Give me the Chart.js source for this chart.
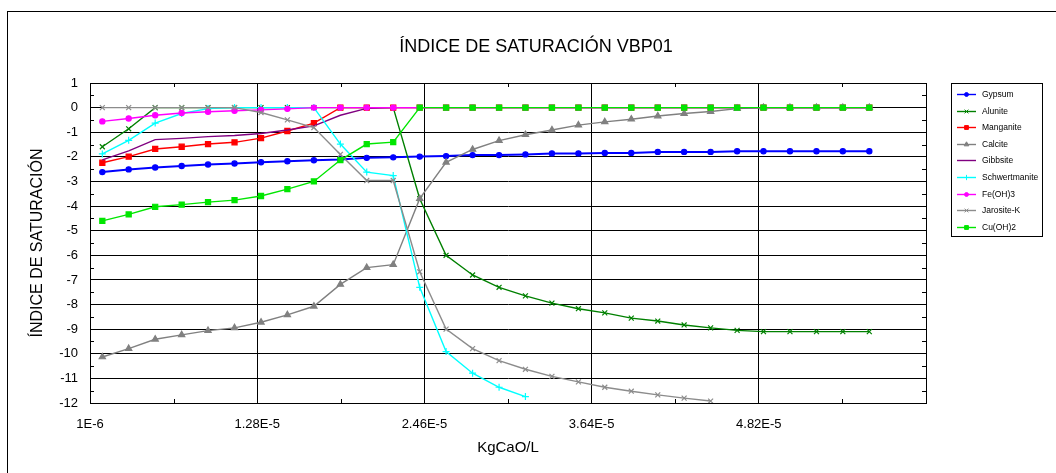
<!DOCTYPE html>
<html>
<head>
<meta charset="utf-8">
<script src="https://cdn.jsdelivr.net/npm/chart.js@4/dist/chart.umd.min.js"></script>
<style>
  body { margin: 0; background: #fff; }
  #wrap { width: 1056px; height: 473px; }
</style>
</head>
<body>
<div id="wrap"><canvas id="chart" width="1056" height="473"></canvas></div>
<script>
// datos
const kgCaO = [1.87e-6, 3.73e-6, 5.6e-6, 7.47e-6, 9.33e-6, 1.12e-5, 1.307e-5, 1.493e-5, 1.68e-5, 1.867e-5,
  2.053e-5, 2.24e-5, 2.427e-5, 2.613e-5, 2.8e-5, 2.987e-5, 3.173e-5, 3.36e-5, 3.547e-5, 3.733e-5,
  3.92e-5, 4.107e-5, 4.293e-5, 4.48e-5, 4.667e-5, 4.853e-5, 5.04e-5, 5.227e-5, 5.413e-5, 5.6e-5];

const gypsum = [-2.62, -2.51, -2.43, -2.37, -2.31, -2.27, -2.22, -2.18, -2.14, -2.11, -2.04, -2.02, -1.99,
  -1.97, -1.93, -1.93, -1.9, -1.86, -1.86, -1.84, -1.84, -1.8, -1.8, -1.8, -1.77, -1.77, -1.77, -1.77, -1.77, -1.77];
const alunite = [-1.59, -0.86, 0, 0, 0, 0, 0, 0, 0, 0, 0, 0, -3.7,
  -6.0, -6.8, -7.3, -7.65, -7.94, -8.17, -8.34, -8.55, -8.67, -8.83, -8.95, -9.05, -9.1, -9.1, -9.1, -9.1, -9.1];
const manganite = [-2.24, -1.99, -1.68, -1.59, -1.48, -1.41, -1.24, -0.95, -0.63, 0, 0, 0, 0,
  0, 0, 0, 0, 0, 0, 0, 0, 0, 0, 0, 0, 0, 0, 0, 0, 0];
const calcite = [-10.13, -9.79, -9.41, -9.23, -9.06, -8.95, -8.72, -8.42, -8.07, -7.18, -6.5, -6.38, -3.7,
  -2.22, -1.7, -1.34, -1.1, -0.91, -0.71, -0.58, -0.47, -0.34, -0.24, -0.16, -0.04, 0, 0, 0, 0, 0];
const gibbsite = [-2.12, -1.76, -1.3, -1.25, -1.18, -1.13, -1.05, -0.91, -0.74, -0.31, -0.03, 0, 0,
  0, 0, 0, 0, 0, 0, 0, 0, 0, 0, 0, 0, 0, 0, 0, 0, 0];
const schwertmanite = [-1.88, -1.33, -0.63, -0.24, -0.04, 0, 0, 0, 0, -1.48, -2.62, -2.76, -7.3,
  -9.91, -10.79, -11.36, -11.74];
const feOH3 = [-0.56, -0.44, -0.31, -0.22, -0.17, -0.13, -0.09, -0.05, 0, 0, 0, 0, 0,
  0, 0, 0, 0, 0, 0, 0, 0, 0, 0, 0, 0, 0, 0, 0, 0, 0];
const jarositeK = [0, 0, 0, 0, 0, 0, -0.2, -0.5, -0.81, -1.9, -2.96, -2.96, -6.67,
  -9.0, -9.79, -10.28, -10.63, -10.92, -11.14, -11.36, -11.52, -11.67, -11.8, -11.92];
const cuOH2 = [-4.6, -4.34, -4.03, -3.94, -3.84, -3.76, -3.59, -3.31, -3.0, -2.13, -1.48, -1.4, 0,
  0, 0, 0, 0, 0, 0, 0, 0, 0, 0, 0, 0, 0, 0, 0, 0, 0];

const seriesNames = ['Gypsum', 'Alunite', 'Manganite', 'Calcite', 'Gibbsite', 'Schwertmanite', 'Fe(OH)3', 'Jarosite-K', 'Cu(OH)2'];
const seriesValues = [gypsum, alunite, manganite, calcite, gibbsite, schwertmanite, feOH3, jarositeK, cuOH2];

const xTickValues = [1e-6, 1.28e-5, 2.46e-5, 3.64e-5, 4.82e-5];
const xTickLabels = ['1E-6', '1.28E-5', '2.46E-5', '3.64E-5', '4.82E-5'];

// estilos de cada serie
const colors = ['#0000ff', '#008000', '#ff0000', '#808080', '#800080', '#00ffff', '#ff00ff', '#8c8c8c', '#00e600'];
const markers = ['circle', 'crossRot', 'rect', 'triangle', false, 'cross', 'circle', 'crossRot', 'rect'];
const radii = [2.6, 3.5, 3.6, 3.6, 0, 3.5, 2.6, 3.5, 3.6];

const FONT = "'Liberation Sans', Arial, sans-serif";

const datasets = seriesNames.map((name, i) => ({
  label: name,
  data: seriesValues[i].map((v, j) => ({ x: kgCaO[j], y: v })),
  borderColor: colors[i],
  backgroundColor: colors[i],
  borderWidth: i === 0 ? 2 : 1.4,
  pointStyle: markers[i],
  pointRadius: radii[i],
  pointBorderWidth: 1.2,
  pointHoverRadius: radii[i],
  tension: 0,
  order: seriesNames.length - i
}));

// marco, ticks menores y leyenda
const decor = {
  id: 'decor',
  beforeDraw(chart) {
    const ctx = chart.ctx;
    ctx.save();
    ctx.fillStyle = '#fff';
    ctx.fillRect(0, 0, chart.width, chart.height);
    ctx.strokeStyle = '#000';
    ctx.lineWidth = 1;
    ctx.strokeRect(7.5, 11.5, 1100, 500);
    ctx.restore();
  },
  afterDraw(chart) {
    const ctx = chart.ctx;
    const a = chart.chartArea;
    const xs = chart.scales.x, ys = chart.scales.y;
    ctx.save();
    ctx.strokeStyle = '#000';
    ctx.lineWidth = 1;
    ctx.strokeRect(Math.round(a.left) + 0.5, Math.round(a.top) + 0.5, Math.round(a.right - a.left), Math.round(a.bottom - a.top));
    ctx.beginPath();
    for (let v = -11.5; v < 1; v += 1) {
      const y = Math.round(ys.getPixelForValue(v)) + 0.5;
      ctx.moveTo(a.left, y); ctx.lineTo(a.left + 4, y);
      ctx.moveTo(a.right, y); ctx.lineTo(a.right - 4, y);
    }
    for (let k = 0; k < xTickValues.length; k++) {
      const v = xTickValues[k] + 0.59e-5;
      const x = Math.round(xs.getPixelForValue(v)) + 0.5;
      if (x >= a.right) continue;
      ctx.moveTo(x, a.top); ctx.lineTo(x, a.top + 4);
      ctx.moveTo(x, a.bottom); ctx.lineTo(x, a.bottom - 4);
    }
    ctx.stroke();

    // leyenda
    ctx.strokeRect(951.5, 83.5, 91, 153);
    ctx.font = '8.5px ' + FONT;
    ctx.textBaseline = 'middle';
    ctx.fillStyle = '#000';
    seriesNames.forEach((name, i) => {
      const y = Math.round(94 + i * 16.6) + 0.5;
      ctx.strokeStyle = colors[i];
      ctx.lineWidth = 1.4;
      ctx.beginPath();
      ctx.moveTo(957, y); ctx.lineTo(976, y);
      ctx.stroke();
      if (markers[i]) {
        ctx.fillStyle = colors[i];
        ctx.lineWidth = 1;
        Chart.helpers.drawPoint(ctx, { pointStyle: markers[i], radius: radii[i] * 0.75, rotation: 0, borderWidth: 1 }, 966.5, y);
      }
      ctx.fillStyle = '#000';
      ctx.fillText(name, 982, y);
    });
    ctx.restore();
  }
};

new Chart(document.getElementById('chart'), {
  type: 'line',
  data: { datasets },
  options: {
    responsive: false,
    animation: false,
    layout: { padding: { left: 16, right: 0, top: 0, bottom: 0 } },
    plugins: {
      legend: { display: false },
      tooltip: { enabled: false },
      title: {
        display: true,
        text: 'ÍNDICE DE SATURACIÓN VBP01',
        color: '#000',
        font: { family: FONT, size: 18, weight: 'normal', lineHeight: 1.2 },
        padding: { top: 36.2, bottom: 25.2 }
      }
    },
    scales: {
      x: {
        type: 'linear',
        min: 1e-6,
        max: 6e-5,
        afterBuildTicks: (scale) => { scale.ticks = xTickValues.map(v => ({ value: v })); },
        afterFit: (scale) => { scale.height = 70; },
        ticks: {
          autoSkip: false,
          maxRotation: 0,
          padding: 14,
          color: '#000',
          font: { family: FONT, size: 13 },
          callback: (v, i) => xTickLabels[i]
        },
        grid: { color: '#000', lineWidth: 1, drawTicks: false },
        border: { display: true, color: '#000' },
        title: {
          display: true,
          text: 'KgCaO/L',
          color: '#000',
          font: { family: FONT, size: 15 },
          padding: { top: 0, bottom: 16 }
        }
      },
      y: {
        min: -12,
        max: 1,
        afterFit: (scale) => { scale.width = 74; },
        ticks: {
          stepSize: 1,
          padding: 12,
          color: '#000',
          font: { family: FONT, size: 13 }
        },
        grid: { color: '#000', lineWidth: 1, drawTicks: false },
        border: { display: true, color: '#000' },
        title: {
          display: true,
          text: 'ÍNDICE DE SATURACIÓN',
          color: '#000',
          font: { family: FONT, size: 16 },
          padding: { top: 12.4, bottom: 0 }
        }
      },
      // eje vacio para reservar el espacio de la leyenda
      yLegend: {
        position: 'right',
        min: -12,
        max: 1,
        afterFit: (scale) => { scale.width = 130; },
        ticks: { display: false },
        grid: { display: false, drawTicks: false },
        border: { display: false }
      }
    }
  },
  plugins: [decor]
});
</script>
</body>
</html>
